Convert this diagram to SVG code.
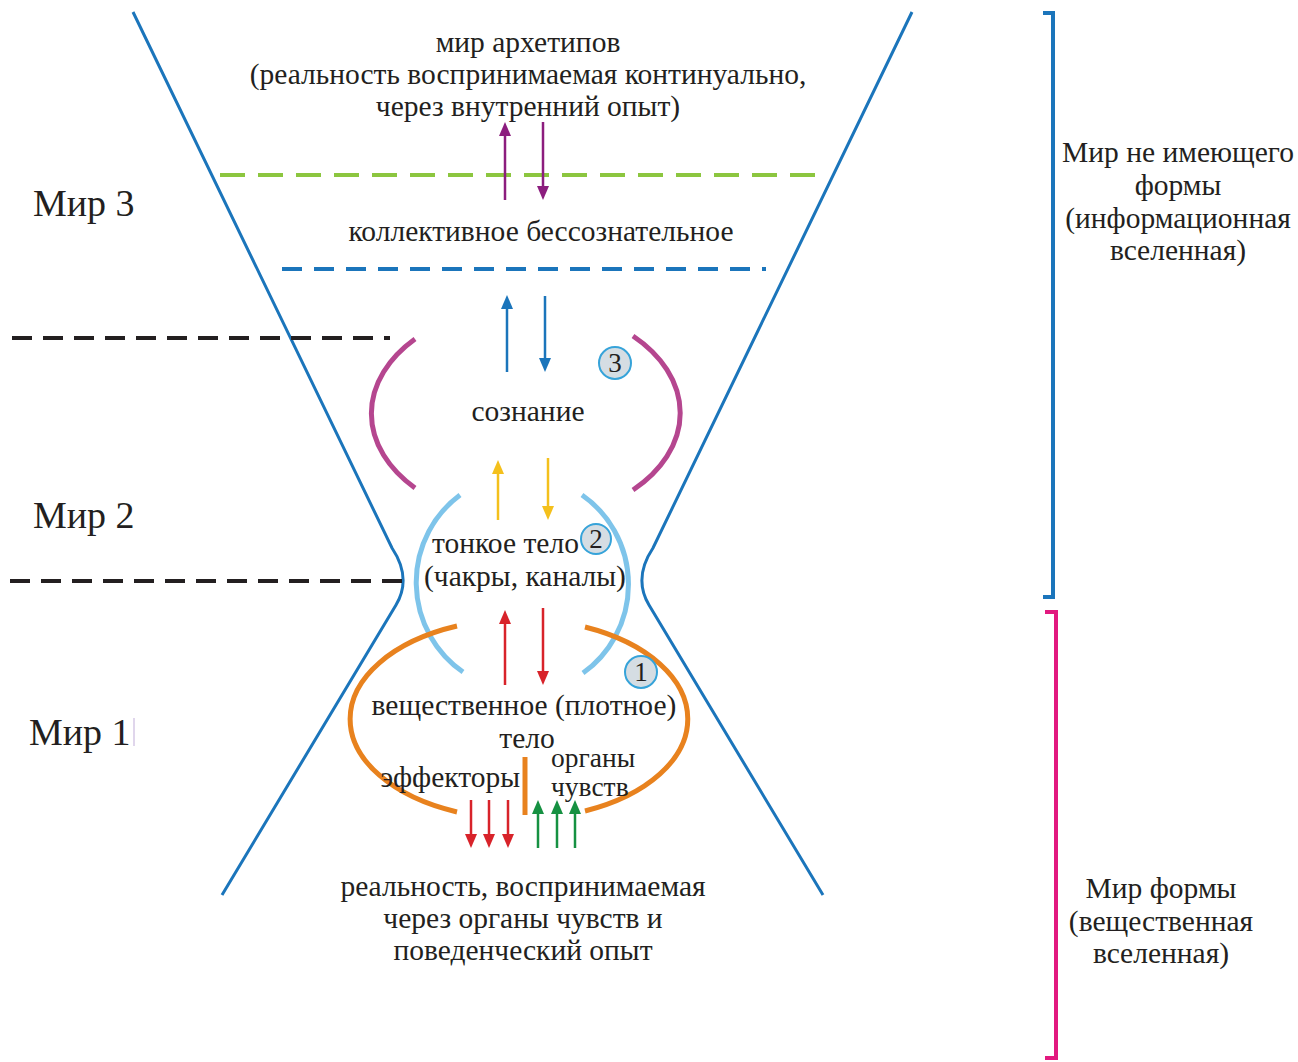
<svg xmlns="http://www.w3.org/2000/svg" width="1298" height="1062" viewBox="0 0 1298 1062">
<style>
text{font-family:"Liberation Serif","Times New Roman",serif;fill:#231f20;font-size:29.5px}
.c{text-anchor:middle}
.big{font-size:38px}
.sm{font-size:27.5px}
.hg{fill:none;stroke:#1b75bb;stroke-width:3}
.arc{fill:none;stroke-width:5;stroke-linecap:butt}
.ar{fill:none;stroke-width:2.5}
.num{fill:#d5dde3;stroke:#36a3d9;stroke-width:2}
.nt{font-size:27px;text-anchor:middle}
</style>
<defs>
<marker id="mP" markerWidth="14" markerHeight="12" refX="0" refY="6" orient="auto" markerUnits="userSpaceOnUse"><path d="M0,0 L14,6 L0,12 z" fill="#8c1d7e"/></marker>
<marker id="mB" markerWidth="14" markerHeight="12" refX="0" refY="6" orient="auto" markerUnits="userSpaceOnUse"><path d="M0,0 L14,6 L0,12 z" fill="#1b75bb"/></marker>
<marker id="mY" markerWidth="14" markerHeight="12" refX="0" refY="6" orient="auto" markerUnits="userSpaceOnUse"><path d="M0,0 L14,6 L0,12 z" fill="#f4c01c"/></marker>
<marker id="mR" markerWidth="14" markerHeight="12" refX="0" refY="6" orient="auto" markerUnits="userSpaceOnUse"><path d="M0,0 L14,6 L0,12 z" fill="#d8232a"/></marker>
<marker id="mG" markerWidth="14" markerHeight="12" refX="0" refY="6" orient="auto" markerUnits="userSpaceOnUse"><path d="M0,0 L14,6 L0,12 z" fill="#169142"/></marker>
</defs>
<rect width="1298" height="1062" fill="#ffffff"/>

<g id="hourglass">
<path class="hg" d="M133,12 L392,548 Q412,578 396,605 L222,895"/>
<path class="hg" d="M912,12 L653,548 Q633,578 649,605 L823,895"/>
</g>

<g id="levels">
<line x1="220" y1="175" x2="818" y2="175" stroke="#8cc63f" stroke-width="4" stroke-dasharray="25,13"/>
<line x1="282" y1="269" x2="766" y2="269" stroke="#1b75bb" stroke-width="4" stroke-dasharray="20,12"/>
<line x1="12" y1="338" x2="390" y2="338" stroke="#231f20" stroke-width="4" stroke-dasharray="20,11"/>
<line x1="10" y1="581" x2="405" y2="581" stroke="#231f20" stroke-width="4" stroke-dasharray="20,11"/>
</g>

<g id="brackets">
<path d="M1043,13 H1053 V597 H1043" fill="none" stroke="#1b75bb" stroke-width="4"/>
<path d="M1045,612 H1056 V1058 H1045" fill="none" stroke="#e2197f" stroke-width="4"/>
</g>

<g id="consciousness-arcs">
<path class="arc" stroke="#b5468f" d="M415,339 A158,108 0 0 0 415,488"/>
<path class="arc" stroke="#b5468f" d="M633,336 A158,108 0 0 1 633,490"/>
</g>
<g id="subtle-arcs">
<path class="arc" stroke="#7ec4ea" d="M460,495 A106,108 0 0 0 463,672"/>
<path class="arc" stroke="#7ec4ea" d="M582,495 A106,108 0 0 1 583,673"/>
</g>
<g id="physical-arcs">
<path class="arc" stroke="#e8821e" d="M457,626 A169,100 0 0 0 457,812"/>
<path class="arc" stroke="#e8821e" d="M585,627 A169,100 0 0 1 585,811"/>
<line x1="525" y1="757" x2="525" y2="815" stroke="#e8821e" stroke-width="5"/>
</g>

<g id="connectors">
<line class="ar" stroke="#8c1d7e" x1="505" y1="200" x2="505" y2="136" marker-end="url(#mP)"/>
<line class="ar" stroke="#8c1d7e" x1="543" y1="122" x2="543" y2="186" marker-end="url(#mP)"/>
<line class="ar" stroke="#1b75bb" x1="507" y1="372" x2="507" y2="309" marker-end="url(#mB)"/>
<line class="ar" stroke="#1b75bb" x1="545" y1="296" x2="545" y2="358" marker-end="url(#mB)"/>
<line class="ar" stroke="#f4c01c" x1="498" y1="520" x2="498" y2="474" marker-end="url(#mY)"/>
<line class="ar" stroke="#f4c01c" x1="548" y1="458" x2="548" y2="506" marker-end="url(#mY)"/>
<line class="ar" stroke="#d8232a" x1="505" y1="685" x2="505" y2="624" marker-end="url(#mR)"/>
<line class="ar" stroke="#d8232a" x1="543" y1="608" x2="543" y2="671" marker-end="url(#mR)"/>
<line class="ar" stroke="#d8232a" x1="471" y1="800" x2="471" y2="834" marker-end="url(#mR)"/>
<line class="ar" stroke="#d8232a" x1="489" y1="800" x2="489" y2="834" marker-end="url(#mR)"/>
<line class="ar" stroke="#d8232a" x1="508" y1="800" x2="508" y2="834" marker-end="url(#mR)"/>
<line class="ar" stroke="#169142" x1="538" y1="848" x2="538" y2="814" marker-end="url(#mG)"/>
<line class="ar" stroke="#169142" x1="557" y1="848" x2="557" y2="814" marker-end="url(#mG)"/>
<line class="ar" stroke="#169142" x1="575" y1="848" x2="575" y2="814" marker-end="url(#mG)"/>
</g>

<g id="archetypes">
<text class="c" x="528" y="52">мир архетипов</text>
<text class="c" x="528" y="84">(реальность воспринимаемая континуально,</text>
<text class="c" x="528" y="116">через внутренний опыт)</text>
</g>
<g id="collective"><text class="c" x="541" y="241">коллективное бессознательное</text></g>
<g id="consciousness"><text class="c" x="528" y="421">сознание</text>
<circle class="num" cx="615" cy="363" r="16"/><text class="nt" x="615" y="372">3</text></g>
<g id="subtle-body">
<text x="432" y="553">тонкое тело</text>
<text x="424" y="586">(чакры, каналы)</text>
<circle class="num" cx="596" cy="539" r="15"/><text class="nt" x="596" y="548">2</text>
</g>
<g id="physical-body">
<text class="c" x="524" y="715">вещественное (плотное)</text>
<text class="c" x="527" y="748">тело</text>
<text x="520" y="787" text-anchor="end">эффекторы</text>
<text class="sm" x="551" y="767">органы</text>
<text class="sm" x="551" y="796">чувств</text>
<circle class="num" cx="641" cy="672" r="16"/><text class="nt" x="641" y="681">1</text>
</g>
<g id="sensory-reality">
<text class="c" x="523" y="896">реальность, воспринимаемая</text>
<text class="c" x="523" y="928">через органы чувств и</text>
<text class="c" x="523" y="960">поведенческий опыт</text>
</g>
<g id="world-labels">
<text class="big" x="33" y="216">Мир 3</text>
<text class="big" x="33" y="528">Мир 2</text>
<text class="big" x="29" y="745">Мир 1</text>
<line x1="134" y1="718" x2="134" y2="746" stroke="#d6c8e6" stroke-width="1.5"/>
</g>
<g id="formless-world">
<text class="c" x="1178" y="162">Мир не имеющего</text>
<text class="c" x="1178" y="195">формы</text>
<text class="c" x="1178" y="228">(информационная</text>
<text class="c" x="1178" y="260">вселенная)</text>
</g>
<g id="form-world">
<text class="c" x="1161" y="898">Мир формы</text>
<text class="c" x="1161" y="931">(вещественная</text>
<text class="c" x="1161" y="963">вселенная)</text>
</g>
</svg>
